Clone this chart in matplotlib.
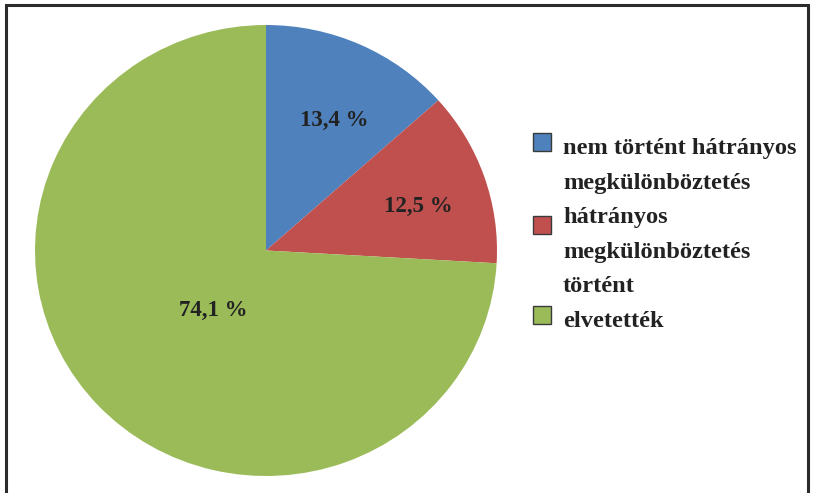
import numpy as np
import matplotlib.pyplot as plt
from matplotlib.patches import Rectangle

# data
categories = ['nem történt hátrányos\nmegkülönböztetés',
              'hátrányos\nmegkülönböztetés\ntörtént',
              'elvetették']
shares = [13.4, 12.5, 74.1]
colors = ['#4F81BD', '#C0504D', '#9BBB59']
label_dist = [0.66, 0.67, 0.35]

W, H = 813, 493


def px(x, y):
    """pixel (from top-left) -> figure fraction"""
    return x / W, 1 - y / H


fig = plt.figure(figsize=(W / 100, H / 100), dpi=100)
font = dict(family='Liberation Serif', weight='bold', color='#222222')

# pie axes, slightly wider than tall like the original
cx, cy, rx, ry = 266, 250.5, 231, 225.5
ax = fig.add_axes([(cx - rx) / W, 1 - (cy + ry) / H, 2 * rx / W, 2 * ry / H])
wedges, _ = ax.pie(shares, colors=colors, startangle=90, counterclock=False,
                   radius=1, wedgeprops=dict(linewidth=0))
ax.set_aspect('auto')
ax.set_xlim(-1, 1)
ax.set_ylim(-1, 1)
ax.axis('off')

for w, s, d in zip(wedges, shares, label_dist):
    ang = np.deg2rad((w.theta1 + w.theta2) / 2)
    ax.annotate(f'{s:.1f} %'.replace('.', ','), (d * np.cos(ang), d * np.sin(ang)),
                xytext=(4.3, -4.3), textcoords='offset points',
                ha='center', va='center', fontsize=16.5, **font)

# legend drawn by hand to keep Excel's line layout
line_gap = 34.6
y0 = 154
square_y = [142, 225, 315]
line = 0
for lab, col, sy in zip(categories, colors, square_y):
    fig.patches.append(Rectangle(px(533, sy + 9), 18 / W, 18 / H,
                                 transform=fig.transFigure, facecolor=col,
                                 edgecolor='#3a3a3a', linewidth=1.0))
    for part in lab.split('\n'):
        x, y = px(563, y0 + line * line_gap)
        fig.text(x, y, part, ha='left', va='baseline', fontsize=17.6, **font)
        line += 1

# outer frame (bottom edge is cut off in the original)
fig.patches.append(Rectangle(px(6, 520), 802 / W, 515 / H,
                             transform=fig.transFigure, fill=False,
                             edgecolor='#2b2b2b', linewidth=2.2))

fig.savefig('out.png', dpi=100)
